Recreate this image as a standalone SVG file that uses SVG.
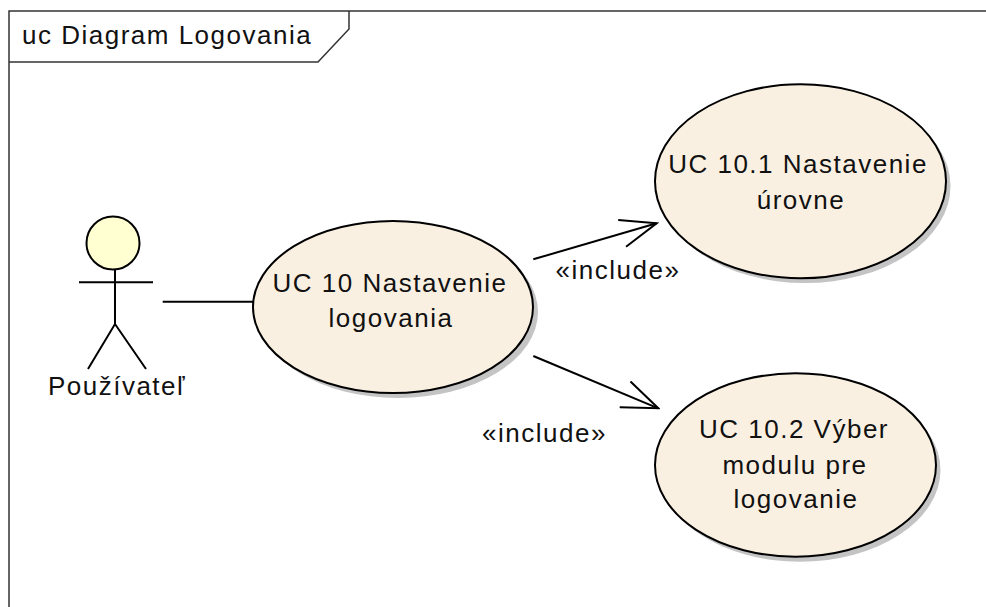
<svg xmlns="http://www.w3.org/2000/svg" width="986" height="607" viewBox="0 0 986 607">
  <style>
    .frame { fill: none; stroke: #333; stroke-width: 1.5; }
    .txt { font-family: "Liberation Sans", Arial, sans-serif; font-size: 26px; letter-spacing: 1.5px; fill: #111; }
    .mid { text-anchor: middle; }
    .uc { fill: #FAF0E2; stroke: #000; stroke-width: 2; }
    .shadow { fill: #C4C4C4; stroke: none; }
    .line { fill: none; stroke: #000; stroke-width: 2; }
  </style>
  <defs>
    <marker id="open-arrow" viewBox="0 0 40 30" refX="38" refY="15" markerWidth="40" markerHeight="30" markerUnits="userSpaceOnUse" orient="auto">
      <path d="M2,1 L38,15 L2,29" fill="none" stroke="#000" stroke-width="2"/>
    </marker>
  </defs>

  <rect width="986" height="607" fill="#fff"/>

  <!-- diagram frame with name tab -->
  <g id="frame">
    <path class="frame" d="M9,607 V11 H990"/>
    <path class="frame" d="M9,62 H318 L349,29 V11"/>
    <text class="txt" x="22" y="44">uc Diagram Logovania</text>
  </g>

  <!-- actor -->
  <g id="actor-pouzivatel">
    <circle cx="113" cy="243" r="26.5" fill="#FFFFD2" stroke="#000" stroke-width="2"/>
    <path class="line" d="M115,269.5 V324 M79,282.3 H153 M88,369 L115,324 L146,369"/>
    <text class="txt mid" x="117" y="395">Používateľ</text>
  </g>

  <!-- use cases -->
  <g id="uc10">
    <ellipse class="shadow" cx="398" cy="312" rx="140" ry="86"/>
    <ellipse class="uc" cx="393" cy="307" rx="140" ry="86"/>
    <text class="txt mid" x="390" y="292">UC 10 Nastavenie</text>
    <text class="txt mid" x="391" y="327">logovania</text>
  </g>

  <g id="uc10-1">
    <ellipse class="shadow" cx="805" cy="186" rx="145.5" ry="97"/>
    <ellipse class="uc" cx="800.5" cy="181.3" rx="145.5" ry="97"/>
    <text class="txt mid" x="798" y="173">UC 10.1 Nastavenie</text>
    <text class="txt mid" x="801" y="209">úrovne</text>
  </g>

  <g id="uc10-2">
    <ellipse class="shadow" cx="800" cy="470" rx="140.5" ry="91.7"/>
    <ellipse class="uc" cx="795.5" cy="465" rx="140.5" ry="91.7"/>
    <text class="txt mid" x="794" y="438">UC 10.2 Výber</text>
    <text class="txt mid" x="795" y="474">modulu pre</text>
    <text class="txt mid" x="796" y="508">logovanie</text>
  </g>

  <!-- connectors -->
  <g id="connectors">
    <path class="line" d="M162.7,301.7 H253"/>
    <path class="line" d="M533.3,259.3 L656.7,223.3" marker-end="url(#open-arrow)"/>
    <text class="txt mid" x="618" y="279">«include»</text>
    <path class="line" d="M533.3,356 L658.3,408.3" marker-end="url(#open-arrow)"/>
    <text class="txt mid" x="544.5" y="442">«include»</text>
  </g>
</svg>
